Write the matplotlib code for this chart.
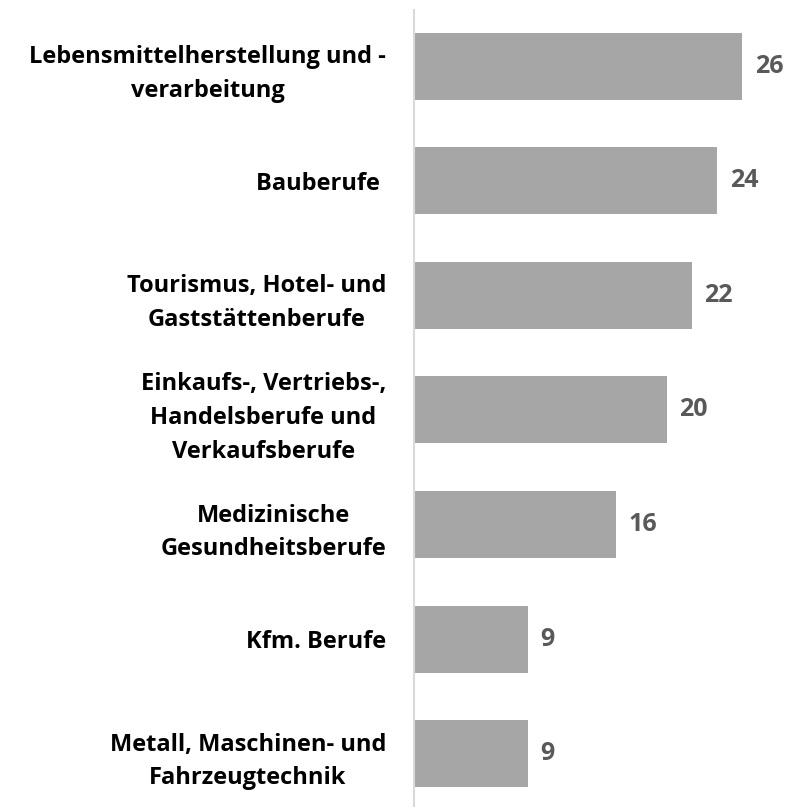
import matplotlib.pyplot as plt

# Kategorien und Werte (von oben nach unten)
categories = [
    "Lebensmittelherstellung und -\nverarbeitung",
    "Bauberufe ",
    "Tourismus, Hotel- und\nGaststättenberufe",
    "Einkaufs-, Vertriebs-,\nHandelsberufe und\nVerkaufsberufe",
    "Medizinische\nGesundheitsberufe",
    "Kfm. Berufe",
    "Metall, Maschinen- und\nFahrzeugtechnik",
]
values = [26, 24, 22, 20, 16, 9, 9]

plt.rcParams['font.family'] = ['Open Sans', 'DejaVu Sans']

fig = plt.figure(figsize=(7.93, 8.07), dpi=100)
ax = fig.add_axes([0.522, 0.0, 0.478, 0.9876])

pos = list(range(len(categories)))
ax.barh(pos, values, height=0.585, color='#a6a6a6')

# Werte rechts neben den Balken
for y, v in zip(pos, values):
    ax.annotate(str(v), xy=(v, y), xytext=(9, 0), textcoords='offset points',
                ha='left', va='center', fontsize=18, fontweight='bold', color='#595959')

ax.set_xlim(0, 30)
ax.set_ylim(6.467, -0.493)
ax.set_yticks(pos)
ax.set_yticklabels(categories, fontsize=17, fontweight='bold',
                   multialignment='center', linespacing=1.55)
ax.tick_params(axis='y', length=0, pad=20)
ax.set_xticks([])

for s in ['top', 'right', 'bottom']:
    ax.spines[s].set_visible(False)
ax.spines['left'].set_color('#d9d9d9')
ax.spines['left'].set_linewidth(1.5)

fig.savefig('out.png', dpi=100)
